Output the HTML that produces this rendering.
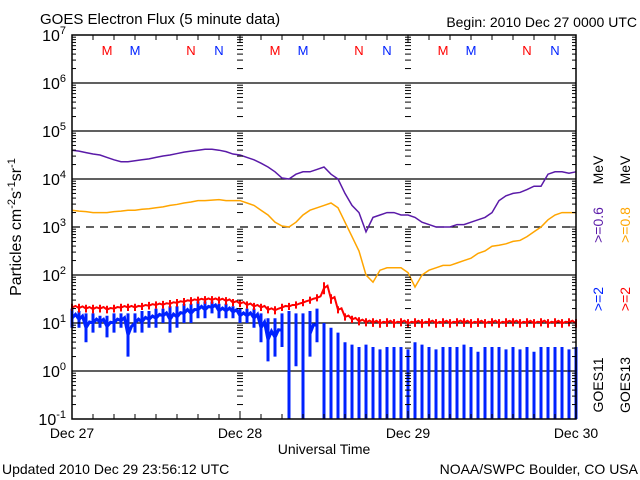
<!DOCTYPE html>
<html><head><meta charset="utf-8"><style>
html,body{margin:0;padding:0;background:#fff;}
svg{display:block;font-family:"Liberation Sans",sans-serif;}
</style></head><body>
<svg id="chart" width="640" height="480" viewBox="0 0 640 480" xmlns="http://www.w3.org/2000/svg">
<rect width="640" height="480" fill="#fff"/>
<text x="40" y="24" font-size="15">GOES Electron Flux (5 minute data)</text>
<text x="637" y="27" font-size="14" text-anchor="end">Begin: 2010 Dec 27 0000 UTC</text>
<text x="2" y="474" font-size="14">Updated 2010 Dec 29 23:56:12 UTC</text>
<text x="638" y="474" font-size="14" text-anchor="end">NOAA/SWPC Boulder, CO USA</text>
<text x="324" y="454" font-size="14" text-anchor="middle">Universal Time</text>
<text transform="translate(21,227) rotate(-90)" font-size="16" text-anchor="middle">Particles cm<tspan font-size="11" dy="-6">-2</tspan><tspan dy="6">s</tspan><tspan font-size="11" dy="-6">-1</tspan><tspan dy="6">sr</tspan><tspan font-size="11" dy="-6">-1</tspan></text>
<g id="grid"></g>
<g id="series"></g>
<g id="axes"></g>
<g font-size="14">
<text transform="translate(603,385) rotate(-90)" text-anchor="middle">GOES11</text>
<text transform="translate(603,299) rotate(-90)" text-anchor="middle" fill="#0022ff">&gt;=2</text>
<text transform="translate(603,225) rotate(-90)" text-anchor="middle" fill="#5a1aa8">&gt;=0.6</text>
<text transform="translate(603,170) rotate(-90)" text-anchor="middle">MeV</text>
<text transform="translate(630,385) rotate(-90)" text-anchor="middle">GOES13</text>
<text transform="translate(630,299) rotate(-90)" text-anchor="middle" fill="#ff0000">&gt;=2</text>
<text transform="translate(630,225) rotate(-90)" text-anchor="middle" fill="#ffa500">&gt;=0.8</text>
<text transform="translate(630,170) rotate(-90)" text-anchor="middle">MeV</text>
</g>
</svg>
<script>
// hourly values, log10(flux), hours 0..72 from Dec 27 00 UTC
const purple = [4.6,4.58,4.55,4.52,4.5,4.45,4.4,4.36,4.36,4.38,4.4,4.42,4.45,4.48,4.5,4.53,4.56,4.58,4.6,4.62,4.62,4.6,4.57,4.52,4.5,4.45,4.4,4.33,4.25,4.15,4.02,4.0,4.1,4.15,4.15,4.2,4.25,4.1,4.0,3.7,3.45,3.3,2.9,3.2,3.25,3.3,3.3,3.25,3.25,3.2,3.1,3.05,3.0,3.0,3.0,3.05,3.05,3.1,3.15,3.2,3.3,3.55,3.65,3.7,3.72,3.78,3.85,3.85,4.1,4.15,4.15,4.12,4.15];
const orange = [3.35,3.33,3.32,3.3,3.3,3.3,3.32,3.33,3.35,3.35,3.37,3.38,3.4,3.42,3.45,3.47,3.5,3.52,3.55,3.55,3.56,3.57,3.55,3.55,3.55,3.5,3.45,3.35,3.25,3.1,3.02,3.0,3.1,3.25,3.35,3.4,3.45,3.5,3.4,3.1,2.8,2.5,2.0,1.85,2.1,2.15,2.15,2.15,2.05,1.75,2.0,2.1,2.15,2.2,2.2,2.25,2.3,2.35,2.45,2.5,2.6,2.62,2.65,2.7,2.72,2.8,2.9,3.0,3.15,3.25,3.3,3.3,3.3];
const redHi = [1.4,1.4,1.38,1.38,1.38,1.36,1.38,1.4,1.4,1.4,1.42,1.44,1.45,1.46,1.48,1.5,1.52,1.54,1.55,1.56,1.56,1.55,1.54,1.5,1.48,1.45,1.42,1.4,1.35,1.35,1.4,1.42,1.45,1.5,1.55,1.6,1.85,1.6,1.35,1.2,1.15,1.12,1.1,1.1,1.08,1.1,1.08,1.1,1.08,1.1,1.08,1.1,1.08,1.1,1.08,1.1,1.1,1.08,1.1,1.08,1.1,1.08,1.1,1.1,1.08,1.1,1.08,1.1,1.08,1.1,1.08,1.1,1.08];
const redLo = [1.25,1.22,1.22,1.2,1.22,1.2,1.22,1.24,1.25,1.25,1.27,1.28,1.3,1.3,1.32,1.34,1.36,1.38,1.4,1.4,1.4,1.4,1.38,1.35,1.33,1.3,1.27,1.25,1.2,1.18,1.25,1.27,1.3,1.35,1.4,1.45,1.6,1.4,1.2,1.05,1.0,0.95,0.93,0.92,0.9,0.92,0.9,0.93,0.9,0.92,0.9,0.93,0.9,0.92,0.9,0.93,0.92,0.9,0.92,0.9,0.93,0.9,0.92,0.93,0.9,0.92,0.9,0.93,0.9,0.92,0.9,0.93,0.9];
const blueHi = [1.3,1.25,1.2,1.2,1.15,1.15,1.2,1.2,1.2,1.2,1.25,1.25,1.3,1.3,1.35,1.35,1.4,1.4,1.45,1.45,1.45,1.4,1.4,1.35,1.3,1.3,1.3,1.2,1.1,1.1,1.2,1.25,1.2,1.2,1.25,1.3,1.0,0.9,0.8,0.6,0.55,0.5,0.55,0.5,0.45,0.5,0.5,0.5,0.45,0.6,0.55,0.5,0.45,0.5,0.5,0.5,0.55,0.5,0.4,0.5,0.5,0.5,0.45,0.5,0.45,0.5,0.4,0.5,0.5,0.5,0.5,0.45,0.5];
const blueLo = [0.9,0.9,0.6,0.8,0.9,0.7,0.8,0.9,0.3,0.8,0.8,0.9,0.9,1.0,0.8,0.9,1.0,1.0,1.1,1.1,1.2,1.1,1.1,1.1,1.0,1.0,0.9,0.6,0.2,0.3,0.5,-1,0.1,-1,0.3,0.6,-1,-1,-1,-1,-1,-1,-1,-1,-1,-1,-1,-1,-1,-1,-1,-1,-1,-1,-1,-1,-1,-1,-1,-1,-1,-1,-1,-1,-1,-1,-1,-1,-1,-1,-1,-1,-1];
const dayLabels = ["Dec 27","Dec 28","Dec 29","Dec 30"];
const yExponents = [-1,0,1,2,3,4,5,6,7];
const markers = [["M","#ff0000"],["M","#0022ff"],["N","#ff0000"],["N","#0022ff"]];
const markerHours = [5,9,17,21];

const NS="http://www.w3.org/2000/svg";
const X0=72,X1=576,Y0=419,Y1=35,HOURS=72;
const xs=h=>X0+(X1-X0)*h/HOURS;
const ys=l=>Y0-(Y0-Y1)*(l-(-1))/8;
function mk(tag,attrs,parent){const e=document.createElementNS(NS,tag);for(const k in attrs)e.setAttribute(k,attrs[k]);parent.appendChild(e);return e;}
const grid=document.getElementById('grid'),axes=document.getElementById('axes'),ser=document.getElementById('series');

yExponents.forEach(p=>{
  if(p>-1&&p<7){
    const l=mk('line',{x1:X0,x2:X1,y1:ys(p),y2:ys(p),stroke:'#000','stroke-width':1.2,'stroke-dasharray':p===3?'8,6':'none'},grid);
    
    
  }
  const t=mk('text',{x:X0-6,y:ys(p)+6,'font-size':16,'text-anchor':'end'},axes);
  
  
  t.textContent='10';
  const s=mk('tspan',{'font-size':11,dy:-7},t);s.textContent=String(p);
  if(p<7){
    for(let m=2;m<=9;m++){
      const yy=ys(p+Math.log10(m));
      [[X0,X0+4],[X1-4,X1],[xs(24)-3,xs(24)+3],[xs(48)-3,xs(48)+3]].forEach(([a,b])=>mk('line',{x1:a,x2:b,y1:yy,y2:yy,stroke:'#000','stroke-width':1},axes));
    }
  }
  [[X0,X0+8],[X1-8,X1]].forEach(([a,b])=>mk('line',{x1:a,x2:b,y1:ys(p),y2:ys(p),stroke:'#000'},axes));
});
for(let h=0;h<=HOURS;h+=3){
  const x=xs(h),len=h%24===0?8:5;
  mk('line',{x1:x,x2:x,y1:Y0,y2:Y0-len,stroke:'#000'},axes);
  mk('line',{x1:x,x2:x,y1:Y1,y2:Y1+len,stroke:'#000'},axes);
}
dayLabels.forEach((d,i)=>{
  const t=mk('text',{x:xs(i*24),y:438,'font-size':14,'text-anchor':'middle'},axes);
  
  
  t.textContent=d;
});
const frame=mk('rect',{x:X0,y:Y1,width:X1-X0,height:Y0-Y1,fill:'none',stroke:'#000','stroke-width':1.5},axes);


for(let d=0;d<3;d++)markerHours.forEach((h,i)=>{
  const t=mk('text',{x:xs(d*24+h),y:55,'font-size':13,'text-anchor':'middle',fill:markers[i][1]},axes);
  
  
  t.textContent=markers[i][0];
});

function bars(hi,lo,color,name,w){
  const g=mk('g',{},ser);
  
  
  let d='';
  for(let h=0;h<hi.length;h++){
    const x=xs(h);
    d+='M'+x+' '+ys(Math.max(lo[h],-1))+'V'+ys(hi[h]);
    if(h<hi.length-1 && lo[h]>-1 && lo[h+1]>-1){d+='M'+x+' '+ys((hi[h]+lo[h])/2)+'L'+xs(h+0.5)+' '+ys(hi[h]-(hi[h]-lo[h])*0.3)+'L'+xs(h+1)+' '+ys((hi[h+1]+lo[h+1])/2);}
  }
  mk('path',{d:d,fill:'none',stroke:color,'stroke-width':w},g);
}
function line(arr,color,name){
  const p=mk('polyline',{points:arr.map((v,h)=>xs(h)+','+ys(v)).join(' '),fill:'none',stroke:color,'stroke-width':1.5},ser);
  
  
}
bars(blueHi,blueLo,'#0022ff','series-goes11-2mev',3);
bars(redHi,redLo,'#ff0000','series-goes13-2mev',2);
line(orange,'#ffa500','series-goes13-08mev');
line(purple,'#5a1aa8','series-goes11-06mev');
</script>
</body></html>
